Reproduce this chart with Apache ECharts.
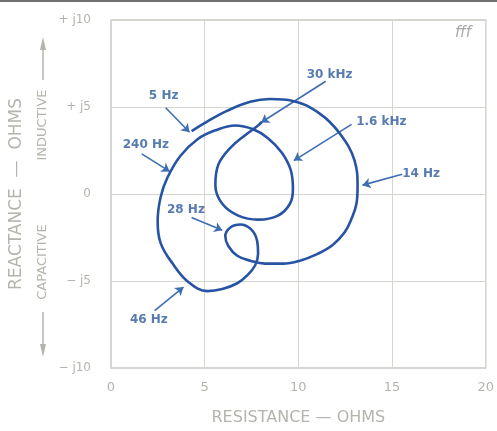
<!DOCTYPE html>
<html>
<head>
<meta charset="utf-8">
<script src="https://cdn.jsdelivr.net/npm/echarts@6/dist/echarts.min.js"></script>
<style>html,body{margin:0;padding:0;background:#fff}#c{width:497px;height:431px}</style>
</head>
<body>
<div id="c"></div>
<script>
// Impedance locus (resistance, reactance) from 5 Hz to 30 kHz
const curveR = [4.30,5.15,6.21,7.43,8.49,9.71,11.14,12.20,13.00,13.16,13.10,12.84,12.47,11.83,11.03,10.08,9.18,8.22,7.43,6.74,6.26,6.10,6.37,6.90,7.48,7.80,7.85,7.69,7.27,6.74,5.94,5.15,4.14,3.29,2.65,2.49,2.65,3.02,3.71,4.62,5.57,6.63,7.59,8.38,9.12,9.60,9.71,9.55,8.91,7.85,6.79,5.94,5.57,5.73,6.37,7.16,7.80,8.05];
const curveX = [3.61,4.17,4.79,5.30,5.46,5.35,4.62,3.49,1.92,0.39,-0.56,-1.41,-2.20,-2.93,-3.44,-3.83,-4.00,-4.00,-3.83,-3.55,-2.99,-2.42,-1.92,-1.75,-2.03,-2.70,-3.44,-4.11,-4.68,-5.13,-5.46,-5.58,-5.07,-4.00,-2.82,-1.58,-0.17,0.96,2.20,3.15,3.66,3.94,3.72,3.21,2.37,1.35,0.28,-0.56,-1.24,-1.47,-1.24,-0.56,0.51,1.69,2.65,3.38,3.89,4.15];

// Frequency annotations
const annNames = ['5 Hz','240 Hz','28 Hz','46 Hz','30 kHz','1.6 kHz','14 Hz'];
const annLabel = [[2.81,5.63],[1.86,2.82],[4.00,-0.90],[2.02,-7.21],[11.67,6.87],[14.43,4.17],[16.55,1.13]];
const annFrom  = [[2.92,4.96],[1.64,2.31],[4.30,-1.35],[2.33,-6.70],[11.46,6.48],[12.84,4.00],[15.54,1.13]];
const annTo    = [[4.19,3.55],[3.13,1.30],[5.94,-2.08],[3.87,-5.35],[8.01,4.11],[9.76,1.92],[13.42,0.51]];

const xTicks = {0:'0',5:'5',10:'10',15:'15',20:'20'};
const yTicks = {'10':'+ j10','5':'+ j5','0':'0','-5':'− j5','-10':'− j10'};

const gray = '#b4b4ac';
const chart = echarts.init(document.getElementById('c'), null, {renderer:'canvas'});
chart.setOption({
  backgroundColor:'#fff',
  animation:false,
  grid:{left:110, top:20, width:377, height:355, show:true, borderColor:'#c8c8c2', borderWidth:1.5},
  xAxis:{type:'value', min:0, max:20, interval:5,
    name:'RESISTANCE — OHMS', nameLocation:'middle', nameGap:42,
    nameTextStyle:{color:gray, fontSize:16, fontFamily:'DejaVu Sans'},
    axisLine:{show:false}, axisTick:{show:false},
    axisLabel:{color:gray, fontSize:13, margin:13, fontFamily:'DejaVu Sans', formatter:v=>xTicks[v]},
    splitLine:{lineStyle:{color:'#d6d6d0', width:1}}},
  yAxis:{type:'value', min:-10, max:10, interval:5,
    name:'REACTANCE  —  OHMS', nameLocation:'middle', nameGap:86, nameRotate:90,
    nameTextStyle:{color:gray, fontSize:17, fontFamily:'DejaVu Sans'},
    axisLine:{show:false}, axisTick:{show:false},
    axisLabel:{color:gray, fontSize:12, margin:20, fontFamily:'DejaVu Sans', formatter:v=>yTicks[String(v)]},
    splitLine:{lineStyle:{color:'#d6d6d0', width:1}}},
  graphic:[
    {type:'line', shape:{x1:0,y1:1,x2:497,y2:1}, style:{stroke:'#707070', lineWidth:2}},
    {type:'text', x:43, y:125, rotation:Math.PI/2, style:{text:'INDUCTIVE', fill:gray, font:'13px "DejaVu Sans"', textAlign:'center', textVerticalAlign:'middle'}},
    {type:'text', x:43, y:262, rotation:Math.PI/2, style:{text:'CAPACITIVE', fill:gray, font:'13px "DejaVu Sans"', textAlign:'center', textVerticalAlign:'middle'}},
    {type:'line', shape:{x1:43,y1:48,x2:43,y2:80}, style:{stroke:gray, lineWidth:1.5}},
    {type:'polygon', shape:{points:[[43,37],[46,50],[40,50]]}, style:{fill:gray}},
    {type:'line', shape:{x1:43,y1:312,x2:43,y2:345}, style:{stroke:gray, lineWidth:1.5}},
    {type:'polygon', shape:{points:[[43,357],[46,344],[40,344]]}, style:{fill:gray}},
    {type:'text', x:463, y:33, style:{text:'fff', fill:'#a8a8a8', font:'italic 15px "DejaVu Sans"', textAlign:'center', textVerticalAlign:'middle'}}
  ],
  series:[
    {type:'line', data:curveR.map((r,i)=>[r,curveX[i]]), smooth:0.4, showSymbol:false,
     lineStyle:{color:'#2653a3', width:2.6}},
    {type:'lines', coordinateSystem:'cartesian2d', symbol:['none','arrow'], symbolSize:8,
     lineStyle:{color:'#3d6db3', width:1.6, opacity:1},
     data:annFrom.map((f,i)=>({coords:[f, annTo[i]]}))},
    {type:'scatter', symbolSize:0, silent:true,
     data:annLabel.map((p,i)=>({value:p, name:annNames[i]})),
     label:{show:true, position:'inside', formatter:'{b}', color:'#2b5a9c', fontSize:12, fontWeight:'bold', fontFamily:'DejaVu Sans'}}
  ]
});
</script>
</body>
</html>
